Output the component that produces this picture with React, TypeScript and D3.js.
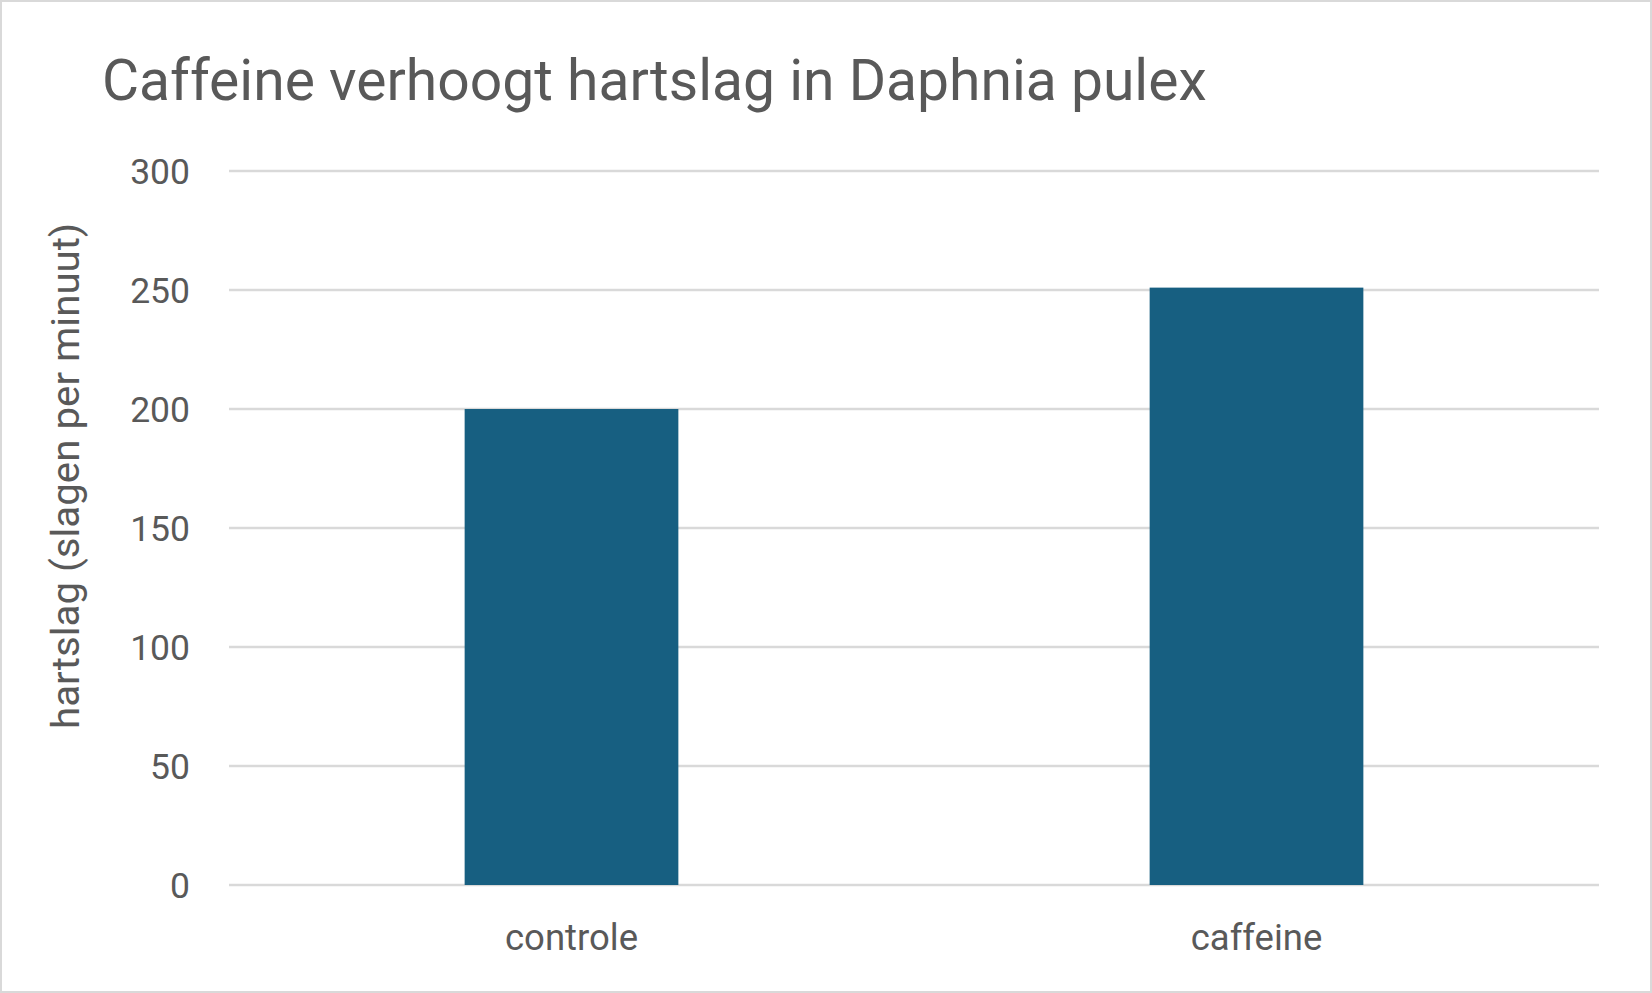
import * as d3 from 'd3';

const categories = ['controle', 'caffeine'];
const values = [200, 251];
const yTicks = [0, 50, 100, 150, 200, 250, 300];

const title = 'Caffeine verhoogt hartslag in Daphnia pulex';
const yTitle = 'hartslag (slagen per minuut)';

export default function App() {
  const width = 1652;
  const height = 993;
  const margin = { top: 171, right: 53, bottom: 108, left: 229 };
  const innerWidth = width - margin.left - margin.right;
  const innerHeight = height - margin.top - margin.bottom;

  const x = d3.scaleBand<string>()
    .domain(categories)
    .range([0, innerWidth])
    .paddingInner(0.688)
    .paddingOuter(0.344);

  const y = d3.scaleLinear().domain([0, 300]).range([innerHeight, 0]);

  const textColor = '#595959';
  const font = 'Roboto, "Open Sans", sans-serif';

  return (
    <svg
      width={width}
      height={height}
      style={{ position: 'absolute', left: 0, top: 0, background: '#fff' }}
      fontFamily={font}
    >
      <rect x={1} y={1} width={width - 2} height={height - 2} fill="#fff" stroke="#d9d9d9" strokeWidth={2} />

      <text x={102} y={100} fontSize={57} fill={textColor}>{title}</text>

      <g transform={`translate(${margin.left},${margin.top})`}>
        {/* gridlines + tick labels */}
        {yTicks.map(t => (
          <g key={t}>
            <line x1={0} x2={innerWidth} y1={y(t)} y2={y(t)} stroke="#d9d9d9" strokeWidth={2.5} />
            <text x={-39} y={y(t) + 12.5} textAnchor="end" fontSize={35.5} fill={textColor}>{t}</text>
          </g>
        ))}

        {/* bars */}
        {categories.map((c, i) => (
          <rect
            key={c}
            x={x(c)}
            y={y(values[i])}
            width={x.bandwidth()}
            height={innerHeight - y(values[i])}
            fill="#175f81"
          />
        ))}

        {/* category labels */}
        {categories.map(c => (
          <text
            key={c}
            x={(x(c) ?? 0) + x.bandwidth() / 2}
            y={innerHeight + 65}
            textAnchor="middle"
            fontSize={36.5}
            fill={textColor}
          >
            {c}
          </text>
        ))}
      </g>

      <text
        transform={`translate(79,476) rotate(-90)`}
        textAnchor="middle"
        fontSize={39}
        textLength={506}
        lengthAdjust="spacingAndGlyphs"
        fill={textColor}
      >
        {yTitle}
      </text>
    </svg>
  );
}
